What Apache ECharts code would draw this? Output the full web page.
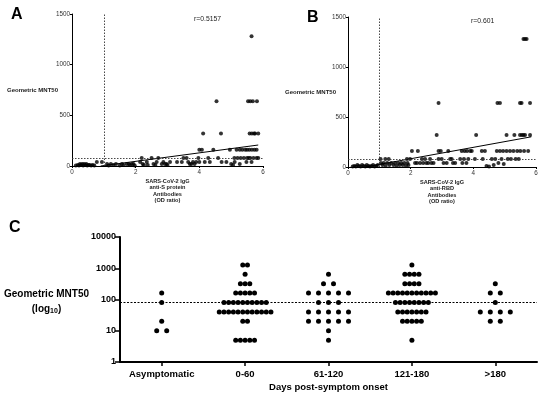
<!DOCTYPE html>
<html><head><meta charset="utf-8">
<script src="https://cdn.jsdelivr.net/npm/echarts@6/dist/echarts.min.js"></script>
<style>html,body{margin:0;padding:0;background:#fff}#c{width:550px;height:396px}</style>
</head><body><div id="c"></div>
<script>
// ---------- Data ----------
// Panel A: anti-S protein IgG OD ratio vs Geometric MNT50
const antiS = [
 [0.12,5],[0.18,10],[0.22,5],[0.25,20],[0.28,10],[0.32,20],[0.35,5],[0.38,20],[0.42,10],[0.45,20],[0.48,5],[0.52,10],[0.55,10],[0.6,5],[0.65,10],[0.7,5],[0.78,40],[0.94,40],
 [1.1,20],[1.15,5],[1.22,20],[1.3,10],[1.38,20],[1.5,5],[1.57,20],[1.62,10],[1.72,20],[1.78,20],[1.82,10],[1.88,20],[1.93,20],[1.97,5],
 [2.14,40],[2.19,80],[2.22,20],[2.26,10],[2.35,40],[2.38,10],[2.5,80],[2.56,20],[2.62,10],[2.66,40],[2.71,80],[2.82,20],[2.87,40],[2.92,20],[2.97,20],[3.0,10],
 [3.08,40],[3.3,40],[3.45,40],[3.5,80],[3.6,80],[3.65,40],[3.7,20],[3.75,20],[3.8,40],[3.85,20],[3.9,40],[3.97,80],[4.0,40],[4.0,160],
 [4.08,160],[4.12,320],[4.17,40],[4.28,80],[4.33,40],[4.44,160],[4.54,640],[4.59,80],[4.68,320],[4.7,40],[4.85,40],[4.96,160],[5.0,20],[5.06,10],
 [5.1,80],[5.11,40],[5.17,160],[5.2,80],[5.27,160],[5.27,20],[5.3,80],[5.35,160],[5.4,80],[5.44,160],[5.48,40],[5.5,80],[5.5,160],[5.53,640],[5.55,80],[5.57,160],[5.58,320],[5.6,640],[5.6,80],[5.64,1280],[5.64,40],[5.65,160],[5.65,320],[5.68,640],[5.7,80],[5.72,320],[5.73,160],[5.75,320],[5.8,80],[5.8,160],[5.81,640],[5.85,320],[5.85,80]
];
// Panel B: anti-RBD IgG OD ratio vs Geometric MNT50
const antiRBD = [
 [0.15,5],[0.2,10],[0.25,5],[0.3,20],[0.35,10],[0.4,5],[0.45,20],[0.5,10],[0.55,5],[0.6,20],[0.65,10],[0.7,5],[0.75,10],[0.8,20],[0.85,5],[0.9,10],[0.95,20],
 [1.04,80],[1.05,40],[1.1,20],[1.14,40],[1.19,80],[1.2,10],[1.25,40],[1.3,80],[1.32,20],[1.38,40],[1.45,20],[1.5,40],[1.55,10],[1.6,40],[1.65,20],[1.7,40],[1.75,20],[1.8,40],[1.85,10],[1.88,80],[1.9,40],[1.93,20],[1.98,80],
 [2.04,160],[2.14,40],[2.2,40],[2.23,160],[2.3,40],[2.36,80],[2.4,40],[2.46,80],[2.5,40],[2.56,40],[2.62,80],[2.66,40],[2.73,40],[2.83,320],[2.89,640],[2.89,80],[2.89,160],[2.96,160],[2.99,80],
 [3.05,40],[3.15,40],[3.2,160],[3.26,80],[3.31,80],[3.35,40],[3.42,40],[3.58,80],[3.63,160],[3.65,40],[3.7,80],[3.72,160],[3.78,40],[3.8,160],[3.84,80],[3.9,160],[3.95,160],
 [4.05,80],[4.09,320],[4.27,160],[4.3,80],[4.37,160],[4.42,10],[4.5,5],[4.59,80],[4.65,20],[4.7,80],[4.75,160],[4.77,640],[4.8,40],[4.85,160],[4.85,640],[4.9,80],[4.95,160],[4.97,30],
 [5.06,320],[5.06,160],[5.1,80],[5.17,160],[5.2,80],[5.28,160],[5.31,320],[5.35,80],[5.4,160],[5.45,80],[5.49,320],[5.49,640],[5.5,160],[5.54,640],[5.55,320],[5.6,1280],[5.6,320],[5.62,160],[5.65,1280],[5.65,320],[5.7,1280],[5.75,160],[5.81,640],[5.81,320]
];
const fitS = [[0.9,0],[5.85,207]];
const fitRBD = [[0.55,0],[5.85,302]];
const rTextS = 'r=0.5157';
const rTextRBD = 'r=0.601';
const odCutoff = 1;
const mntCutoff = 80;

// Panel C: Geometric MNT50 by days post-symptom onset
const groups = ['Asymptomatic','0-60','61-120','121-180','>180'];
const asymptomatic = [160,80,20,10,10];
const days0to60 = [1280,1280,640,320,320,320,160,160,160,160,160,
  80,80,80,80,80,80,80,80,80,80,
  40,40,40,40,40,40,40,40,40,40,40,40,
  20,20,5,5,5,5,5];
const days61to120 = [640,320,320,160,160,160,160,160,80,80,80,40,40,40,40,40,20,20,20,20,20,10,5];
const days121to180 = [1280,640,640,640,640,320,320,320,320,
  160,160,160,160,160,160,160,160,160,160,160,
  80,80,80,80,80,80,80,80,
  40,40,40,40,40,40,40,
  20,20,20,20,20,5];
const over180 = [320,160,160,80,40,40,40,40,20,20];
const logTicks = [1,10,100,1000,10000];

// ---------- Build swarm layout ----------
const groupValues = [asymptomatic, days0to60, days61to120, days121to180, over180];
const swarm = [];
groupValues.forEach((vals, gi) => {
  const counts = {};
  vals.forEach(v => { counts[v] = (counts[v] || 0) + 1; });
  const maxN = Math.max(...Object.values(counts));
  const sp = maxN > 6 ? 4.7 : 10;
  Object.keys(counts).forEach(v => {
    const n = counts[v];
    for (let k = 0; k < n; k++) swarm.push([gi, +v, k, n, sp]);
  });
});

const FONT = '"Liberation Sans", Arial, sans-serif';
const small = {fontFamily: FONT, fontSize: 6.3, color: '#333', formatter: v => String(v)};

function scatterAxes(gridIndex, title) {
  return {
    x: {
      type: 'value', gridIndex, min: 0, max: 6, interval: 2,
      axisLine: {show: true, lineStyle: {color: '#000', width: 1}},
      axisTick: {show: true, length: 2, lineStyle: {color: '#000'}},
      axisLabel: Object.assign({margin: 3}, small),
      splitLine: {show: false},
      name: title, nameLocation: 'middle', nameGap: 12,
      nameTextStyle: {fontFamily: FONT, fontSize: 5.6, fontWeight: 'bold', color: '#222', lineHeight: 6.4}
    },
    y: {
      type: 'value', gridIndex, min: 0, max: 1500, interval: 500,
      axisLine: {show: true, lineStyle: {color: '#000', width: 1}},
      axisTick: {show: true, length: 2, lineStyle: {color: '#000'}},
      axisLabel: Object.assign({margin: 2}, small),
      splitLine: {show: false}
    }
  };
}
const axA = scatterAxes(0, 'SARS-CoV-2 IgG\nanti-S protein\nAntibodies\n(OD ratio)');
const axB = scatterAxes(1, 'SARS-CoV-2 IgG\nanti-RBD\nAntibodies\n(OD ratio)');

function refLines() {
  return {
    silent: true, symbol: 'none', label: {show: false},
    lineStyle: {type: [1.5, 1.5], color: '#333', width: 0.9},
    data: [{xAxis: odCutoff}, {yAxis: mntCutoff}]
  };
}

const chart = echarts.init(document.getElementById('c'), null, {renderer: 'canvas'});
chart.setOption({
  animation: false,
  backgroundColor: '#fff',
  grid: [
    {left: 72, top: 14, width: 191, height: 152},
    {left: 348, top: 17, width: 188, height: 150},
    {left: 120, top: 237, width: 417, height: 125}
  ],
  xAxis: [axA.x, axB.x, {
    type: 'category', gridIndex: 2, data: groups,
    axisLine: {show: true, lineStyle: {color: '#000', width: 2}},
    axisTick: {show: true, alignWithLabel: true, interval: 0, length: 4, lineStyle: {color: '#000', width: 1.5}},
    axisLabel: {fontFamily: FONT, fontSize: 9.5, fontWeight: 'bold', color: '#000', margin: 7, interval: 0},
    name: 'Days post-symptom onset', nameLocation: 'middle', nameGap: 20,
    nameTextStyle: {fontFamily: FONT, fontSize: 9.5, fontWeight: 'bold', color: '#000'}
  }],
  yAxis: [axA.y, axB.y, {
    type: 'log', logBase: 10, gridIndex: 2, min: logTicks[0], max: logTicks[logTicks.length - 1],
    axisLine: {show: true, lineStyle: {color: '#000', width: 2}},
    axisTick: {show: true, length: 5, lineStyle: {color: '#000', width: 1.5}},
    minorTick: {show: false},
    axisLabel: {fontFamily: FONT, fontSize: 9, fontWeight: 'bold', color: '#000', margin: 4, formatter: v => String(v)},
    splitLine: {show: false}
  }],
  series: [
    {type: 'scatter', xAxisIndex: 0, yAxisIndex: 0, data: antiS, symbolSize: 4,
     itemStyle: {color: '#000'}, markLine: refLines()},
    {type: 'line', xAxisIndex: 0, yAxisIndex: 0, data: fitS, symbol: 'none',
     lineStyle: {color: '#000', width: 1}},
    {type: 'scatter', xAxisIndex: 1, yAxisIndex: 1, data: antiRBD, symbolSize: 4,
     itemStyle: {color: '#000'}, markLine: refLines()},
    {type: 'line', xAxisIndex: 1, yAxisIndex: 1, data: fitRBD, symbol: 'none',
     lineStyle: {color: '#000', width: 1}},
    {type: 'custom', xAxisIndex: 2, yAxisIndex: 2, data: swarm,
     encode: {x: 0, y: 1},
     renderItem: function (params, api) {
       const p = api.coord([api.value(0), api.value(1)]);
       const k = api.value(2), n = api.value(3), sp = api.value(4);
       return {type: 'circle', shape: {cx: p[0] + (k - (n - 1) / 2) * sp, cy: p[1], r: 2.5},
               style: {fill: '#000'}};
     },
     markLine: {silent: true, symbol: 'none', label: {show: false},
       lineStyle: {type: [2, 1.5], color: '#000', width: 1}, data: [{yAxis: mntCutoff}]}
    }
  ],
  graphic: [
    {type: 'text', left: 11, top: 7, style: {text: 'A', font: 'bold 16px ' + FONT, fill: '#000'}},
    {type: 'text', left: 307, top: 10, style: {text: 'B', font: 'bold 16px ' + FONT, fill: '#000'}},
    {type: 'text', left: 9, top: 220, style: {text: 'C', font: 'bold 16px ' + FONT, fill: '#000'}},
    {type: 'text', left: 194, top: 16, style: {text: rTextS, font: '6.8px ' + FONT, fill: '#222'}},
    {type: 'text', left: 471, top: 18, style: {text: rTextRBD, font: '6.8px ' + FONT, fill: '#222'}},
    {type: 'text', left: 7, top: 87, style: {text: 'Geometric MNT50', font: 'bold 6px ' + FONT, fill: '#222'}},
    {type: 'text', left: 285, top: 89, style: {text: 'Geometric MNT50', font: 'bold 6px ' + FONT, fill: '#222'}},
    {type: 'text', x: 46.5, y: 289, style: {text: 'Geometric MNT50', align: 'center',
      font: 'bold 10px ' + FONT, fill: '#000'}},
    {type: 'text', x: 46.5, y: 302, style: {
      text: '{b|(log}{s|10}{b|)}', align: 'center',
      rich: {
        b: {fontFamily: FONT, fontSize: 10, fontWeight: 'bold', fill: '#000', lineHeight: 14},
        s: {fontFamily: FONT, fontSize: 7, fontWeight: 'bold', fill: '#000', lineHeight: 14, padding: [5, 0, 0, 0]}
      }
    }}
  ]
});
</script></body></html>
